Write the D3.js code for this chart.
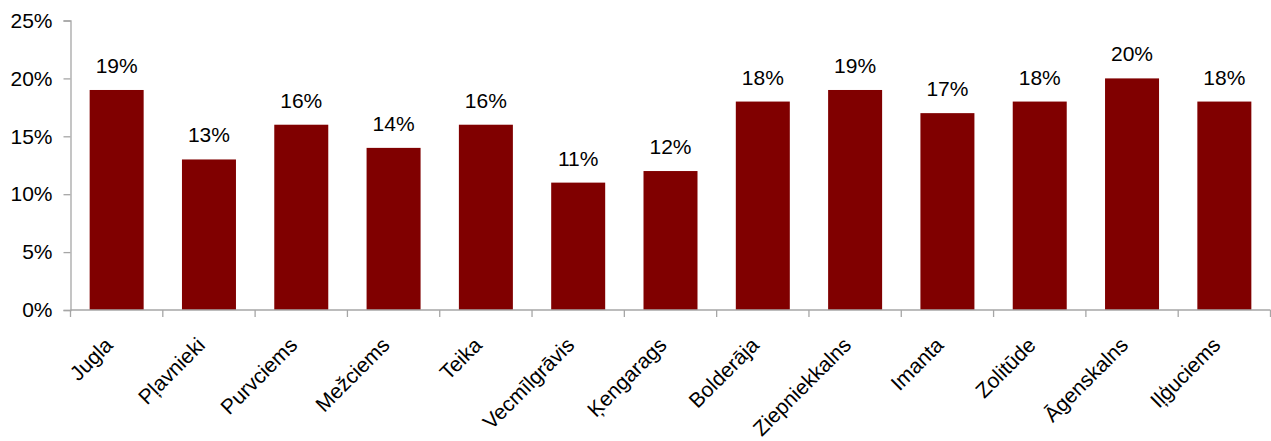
<!DOCTYPE html>
<html><head><meta charset="utf-8">
<script src="https://cdn.jsdelivr.net/npm/d3@7"></script>
<style>body{margin:0;background:#fff}text{font-family:"Liberation Sans",Arial,sans-serif}</style>
</head><body><svg id="c" width="1271" height="441"></svg>
<script>
const categories = ["Jugla","Pļavnieki","Purvciems","Mežciems","Teika","Vecmīlgrāvis","Ķengarags","Bolderāja","Ziepniekkalns","Imanta","Zolitūde","Āgenskalns","Iļģuciems"];
const values = [19,13,16,14,16,11,12,18,19,17,18,20,18];
const yTicks = [0,5,10,15,20,25];

const svg = d3.select("#c");
const m = {left:70.5, right:0.5, top:20.5, bottom:131};
const W = 1271, H = 441;
const x = d3.scaleBand().domain(categories).range([m.left, W - m.right]).paddingInner(0.415).paddingOuter(0.2075);
const y = d3.scaleLinear().domain([0,25]).range([H - m.bottom, m.top]);
const axisColor = "#a6a6a6";
const fs = 21;

// bars
svg.append("g").selectAll("rect").data(values).join("rect")
  .attr("x",(d,i)=>x(categories[i])).attr("width",x.bandwidth())
  .attr("y",d=>y(d)).attr("height",d=>y(0)-y(d)).attr("fill","#800000");

// value labels
svg.append("g").selectAll("text").data(values).join("text")
  .attr("x",(d,i)=>x(categories[i])+x.bandwidth()/2).attr("y",d=>y(d)-17)
  .attr("text-anchor","middle").attr("font-size",fs).attr("fill","#000")
  .text(d=>d+"%");

// y axis
const ya = svg.append("g").attr("transform",`translate(${m.left},0)`)
  .call(d3.axisLeft(y).tickValues(yTicks).tickFormat(d=>d+"%").tickSize(7).tickPadding(11));
ya.select(".domain").attr("stroke",axisColor).attr("stroke-width",1.3);
ya.selectAll(".tick line").attr("stroke",axisColor).attr("stroke-width",1.3);
ya.selectAll(".tick text").attr("font-size",fs).attr("fill","#000").attr("font-family","Liberation Sans, Arial, sans-serif");

// x axis
const step = x.step();
const xa = svg.append("g").attr("transform",`translate(0,${y(0)})`);
xa.append("line").attr("x1",m.left).attr("x2",W-m.right).attr("stroke",axisColor).attr("stroke-width",1.3);
const bounds = d3.range(categories.length+1).map(i=>m.left + i*step);
xa.selectAll("line.t").data(bounds).join("line").attr("class","t")
  .attr("x1",d=>d).attr("x2",d=>d).attr("y1",0).attr("y2",7).attr("stroke",axisColor).attr("stroke-width",1.3);
xa.selectAll("text").data(categories).join("text")
  .attr("transform",d=>`translate(${x(d)+x.bandwidth()/2-13},${26}) rotate(-45)`)
  .attr("text-anchor","end").attr("dy","0.7em").attr("font-size",fs).attr("fill","#000")
  .text(d=>d);
</script></body></html>
